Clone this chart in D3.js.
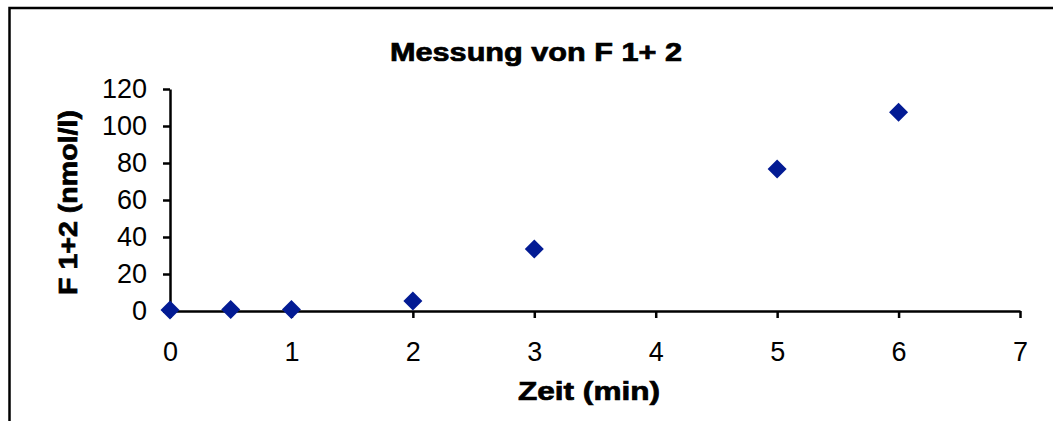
<!DOCTYPE html>
<html>
<head>
<meta charset="utf-8">
<script src="https://cdn.jsdelivr.net/npm/d3@7"></script>
<style>
  body { margin: 0; background: #fff; }
  text { font-family: "Liberation Sans", Arial, sans-serif; }
</style>
</head>
<body>
<svg width="1053" height="421"></svg>
<script>
var zeit = [0, 0.5, 1, 2, 3, 5, 6];
var f12 = [0.5, 0.8, 0.8, 5.4, 33.5, 76.8, 107.4];
var xTicks = [0, 1, 2, 3, 4, 5, 6, 7];
var yTicks = [0, 20, 40, 60, 80, 100, 120];

var svg = d3.select('svg');

// chart frame (cut off at right and bottom)
svg.append('rect')
    .attr('x', 9.5)
    .attr('y', 8)
    .attr('width', 1100)
    .attr('height', 500)
    .attr('fill', 'none')
    .attr('stroke', '#000')
    .attr('stroke-width', 2.5);

var x = d3.scaleLinear().domain([0, 7]).range([170, 1020]);
var y = d3.scaleLinear().domain([0, 120]).range([311, 89]);

var xAxis = svg.append('g')
    .attr('transform', 'translate(0,' + y(0) + ')')
    .call(d3.axisBottom(x).tickValues(xTicks).tickFormat(d3.format('d'))
        .tickSize(7).tickPadding(24).tickSizeOuter(0));

var yAxis = svg.append('g')
    .attr('transform', 'translate(' + x(0) + ',0)')
    .call(d3.axisLeft(y).tickValues(yTicks).tickFormat(d3.format('d'))
        .tickSize(7).tickPadding(16).tickSizeOuter(0));

[xAxis, yAxis].forEach(function(a){
    a.select('.domain').attr('stroke', '#000').attr('stroke-width', 2.5);
    a.selectAll('.tick line').attr('stroke', '#000').attr('stroke-width', 2.5);
    a.selectAll('.tick text')
        .attr('fill', '#000')
        .style('font-size', '27px')
        .style('font-family', '"Liberation Sans", Arial, sans-serif');
});

svg.selectAll('path.pt')
    .data(zeit)
    .enter()
    .append('path')
    .attr('class', 'pt')
    .attr('d', 'M0,-9.5L9.5,0L0,9.5L-9.5,0Z')
    .attr('transform', function(d, i){
        return 'translate(' + x(d) + ',' + y(f12[i]) + ')';
    })
    .attr('fill', '#031b94');

svg.append('text')
    .attr('x', 390)
    .attr('y', 61)
    .attr('textLength', 292)
    .attr('lengthAdjust', 'spacingAndGlyphs')
    .attr('stroke', '#000')
    .attr('stroke-width', 0.7)
    .style('font-size', '25px')
    .style('font-weight', 'bold')
    .text('Messung von F 1+ 2');

svg.append('text')
    .attr('x', 518)
    .attr('y', 400)
    .attr('textLength', 142)
    .attr('lengthAdjust', 'spacingAndGlyphs')
    .attr('stroke', '#000')
    .attr('stroke-width', 0.7)
    .style('font-size', '25px')
    .style('font-weight', 'bold')
    .text('Zeit (min)');

svg.append('text')
    .attr('transform', 'translate(77,295) rotate(-90)')
    .attr('textLength', 185)
    .attr('lengthAdjust', 'spacingAndGlyphs')
    .attr('stroke', '#000')
    .attr('stroke-width', 0.7)
    .style('font-size', '25px')
    .style('font-weight', 'bold')
    .text('F 1+2 (nmol/l)');
</script>
</body>
</html>
